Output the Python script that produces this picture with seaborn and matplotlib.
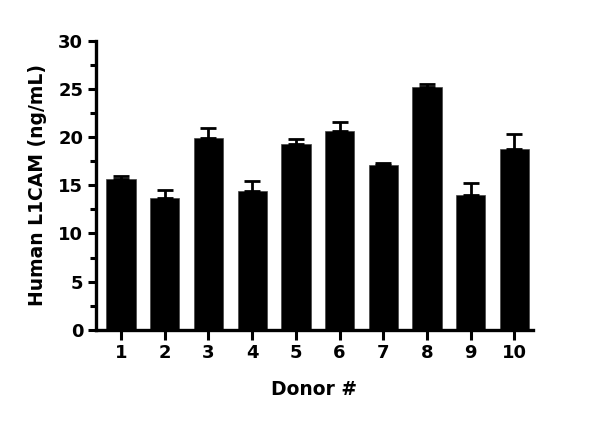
import numpy as np
import pandas as pd
import matplotlib
matplotlib.use("Agg")
import matplotlib.pyplot as plt
import seaborn as sns
from matplotlib.ticker import MultipleLocator

donors = ["1", "2", "3", "4", "5", "6", "7", "8", "9", "10"]
l1cam = [15.7, 13.65, 19.9, 14.4, 19.3, 20.6, 17.15, 25.2, 14.0, 18.8]
sem = [0.3, 0.85, 1.0, 1.0, 0.45, 0.95, 0.15, 0.25, 1.2, 1.5]

df = pd.DataFrame({"donor": donors, "l1cam": l1cam, "sem": sem})

sns.set_style("ticks", {"text.color": "black", "axes.labelcolor": "black",
                        "xtick.color": "black", "ytick.color": "black",
                        "axes.edgecolor": "black"})
plt.rcParams["font.family"] = ["DejaVu Sans"]
plt.rcParams["font.weight"] = "bold"

fig = plt.figure(figsize=(6, 4.23), dpi=100)
ax = fig.add_axes([0.1595, 0.22, 0.7285, 0.684])

sns.barplot(data=df, x="donor", y="l1cam", color="black", width=0.67,
            errorbar=None, ax=ax, edgecolor="#444444", linewidth=0.5)

# only the upper half of the error bar, like the original
ax.errorbar(np.arange(len(donors)), df["l1cam"], yerr=[np.zeros(len(sem)), df["sem"]],
            fmt="none", ecolor="black", elinewidth=2, capsize=5.5, capthick=2)

ax.set_ylim(0, 30)
ax.set_xlim(-0.58, 9.42)
ax.yaxis.set_major_locator(MultipleLocator(5))
ax.yaxis.set_minor_locator(MultipleLocator(2.5))

for s in ["top", "right"]:
    ax.spines[s].set_visible(False)
for s in ["left", "bottom"]:
    ax.spines[s].set_linewidth(2.4)

ax.tick_params(axis="both", which="major", width=2.2, length=6, labelsize=13,
               pad=3, colors="black")
ax.tick_params(axis="y", which="minor", width=2.2, length=4, colors="black")
ax.tick_params(axis="x", which="major", length=7)
for lab in ax.get_xticklabels() + ax.get_yticklabels():
    lab.set_fontweight("bold")

ax.set_xlabel("Donor #", fontsize=13.5, fontweight="bold", labelpad=13, color="black")
ax.set_ylabel("Human L1CAM (ng/mL)", fontsize=13.5, fontweight="bold", labelpad=8,
              color="black")

fig.savefig("out.png", dpi=100)
